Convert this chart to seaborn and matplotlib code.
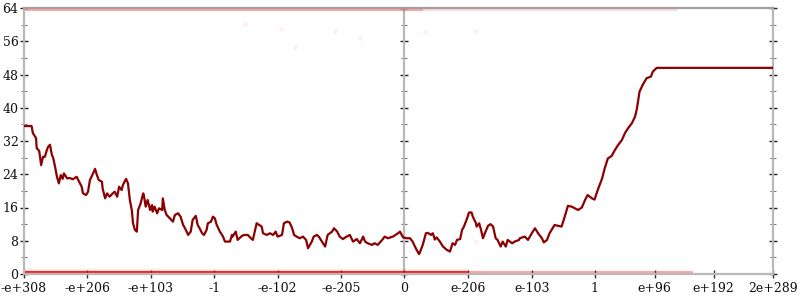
import numpy as np
import pandas as pd
import matplotlib
matplotlib.use("Agg")
import matplotlib.pyplot as plt
import seaborn as sns

# ---- data ----
x_tick_pos = [-6, -5, -4, -3, -2, -1, 0, 1.0, 2.01, 3.0, 3.95, 4.88, 5.82]
x_tick_labels = ["-e+308", "-e+206", "-e+103", "-1", "-e-102", "-e-205", "0",
                 "e-206", "e-103", "1", "e+96", "e+192", "2e+289"]
y_major = [0, 8, 16, 24, 32, 40, 48, 56, 64]
y_minor = [4, 12, 20, 28, 36, 44, 52, 60]

line_x = [-6.00, -5.88, -5.86, -5.81, -5.80, -5.76, -5.73, -5.70, -5.67, -5.64, -5.62, -5.59,
          -5.56, -5.54, -5.51, -5.48, -5.45, -5.42, -5.39, -5.37, -5.32, -5.28, -5.23, -5.17,
          -5.13, -5.09, -5.07, -5.02, -4.99, -4.96, -4.91, -4.88, -4.85, -4.82, -4.77, -4.76,
          -4.72, -4.69, -4.65, -4.60, -4.57, -4.53, -4.50, -4.46, -4.44, -4.39, -4.36, -4.33,
          -4.30, -4.28, -4.25, -4.22, -4.20, -4.16, -4.12, -4.11, -4.08, -4.05, -4.01, -3.98,
          -3.97, -3.94, -3.90, -3.87, -3.82, -3.81, -3.78, -3.75, -3.70, -3.65, -3.62, -3.57,
          -3.53, -3.49, -3.46, -3.41, -3.37, -3.34, -3.29, -3.26, -3.23, -3.19, -3.16, -3.12,
          -3.10, -3.05, -3.02, -2.99, -2.96, -2.91, -2.86, -2.83, -2.75, -2.72, -2.71, -2.66,
          -2.63, -2.56, -2.52, -2.47, -2.42, -2.39, -2.36, -2.33, -2.29, -2.25, -2.23, -2.17,
          -2.12, -2.07, -2.03, -2.00, -1.93, -1.90, -1.85, -1.81, -1.77, -1.74, -1.70, -1.65,
          -1.60, -1.55, -1.52, -1.46, -1.43, -1.38, -1.35, -1.30, -1.25, -1.21, -1.14, -1.11,
          -1.06, -1.02, -0.97, -0.91, -0.86, -0.81, -0.75, -0.70, -0.65, -0.62, -0.58, -0.51,
          -0.47, -0.42, -0.35, -0.31, -0.26, -0.18, -0.10, -0.07, -0.02, 0.04, 0.09, 0.13,
          0.18, 0.23, 0.24, 0.29, 0.34, 0.37, 0.42, 0.45, 0.48, 0.51, 0.56, 0.61,
          0.67, 0.72, 0.76, 0.80, 0.83, 0.88, 0.91, 0.94, 0.99, 1.02, 1.06, 1.08,
          1.13, 1.14, 1.18, 1.21, 1.24, 1.27, 1.32, 1.36, 1.40, 1.44, 1.47, 1.52,
          1.55, 1.60, 1.63, 1.70, 1.74, 1.81, 1.82, 1.90, 1.95, 2.01, 2.06, 2.11,
          2.17, 2.20, 2.25, 2.29, 2.37, 2.42, 2.48, 2.53, 2.58, 2.64, 2.69, 2.74,
          2.80, 2.85, 2.89, 2.96, 3.00, 3.05, 3.12, 3.16, 3.21, 3.27, 3.32, 3.37,
          3.43, 3.48, 3.53, 3.59, 3.64, 3.67, 3.71, 3.76, 3.82, 3.89, 3.92, 3.98,
          5.82]
line_y = [35.6, 35.6, 33.9, 32.7, 30.3, 29.6, 26.2, 28.2, 28.2, 29.8, 30.6, 31.1,
          28.6, 28.0, 25.8, 23.4, 21.8, 23.8, 22.9, 24.2, 23.0, 23.1, 22.8, 23.4,
          22.2, 21.0, 19.4, 19.0, 19.8, 22.6, 24.2, 25.3, 23.8, 22.6, 22.2, 20.6,
          18.2, 19.4, 18.6, 19.4, 19.8, 18.6, 21.0, 20.2, 21.4, 22.9, 21.8, 17.8,
          15.4, 12.2, 10.6, 10.2, 15.4, 17.0, 19.4, 19.0, 16.2, 17.8, 15.4, 16.6,
          15.0, 16.2, 14.6, 15.8, 15.4, 18.2, 15.4, 14.2, 13.4, 12.6, 14.2, 14.6,
          13.8, 11.8, 11.0, 9.4, 10.2, 13.0, 14.0, 11.8, 11.0, 9.8, 9.4, 10.6,
          12.2, 12.6, 13.8, 13.4, 11.8, 10.2, 9.0, 7.8, 7.8, 9.4, 9.0, 10.2,
          8.2, 9.2, 9.4, 9.4, 8.6, 8.2, 10.2, 12.2, 11.8, 11.4, 9.8, 9.4,
          9.8, 9.4, 10.2, 9.0, 9.4, 12.2, 12.6, 12.4, 11.0, 9.4, 9.0, 8.6,
          9.0, 8.2, 6.2, 7.8, 9.0, 9.4, 9.0, 7.8, 6.6, 9.4, 10.2, 11.0,
          10.2, 9.0, 8.4, 9.0, 9.4, 7.8, 8.4, 7.4, 9.0, 7.8, 7.4, 7.0,
          7.4, 7.0, 8.2, 9.0, 8.6, 9.0, 9.8, 10.2, 8.8, 8.6, 8.6, 7.8,
          6.2, 4.8, 5.0, 7.0, 9.8, 9.9, 9.4, 9.8, 8.3, 8.8, 7.8, 6.6,
          5.8, 5.4, 7.4, 7.0, 8.2, 8.4, 10.6, 11.4, 13.4, 14.8, 14.8, 13.8,
          12.2, 11.4, 12.2, 10.6, 8.6, 9.8, 11.6, 12.0, 11.4, 8.6, 8.2, 6.6,
          7.8, 6.6, 8.2, 7.4, 7.8, 8.2, 8.6, 9.0, 8.2, 9.8, 11.0, 9.8,
          8.6, 7.6, 8.2, 9.8, 11.8, 11.6, 11.4, 13.8, 16.4, 16.2, 15.8, 15.4,
          16.0, 17.8, 19.0, 18.2, 17.9, 20.2, 23.0, 25.4, 27.8, 28.4, 29.8, 31.0,
          32.2, 33.9, 35.1, 36.3, 37.9, 39.9, 43.9, 45.5, 47.1, 47.5, 48.7, 49.6,
          49.6]

# sampled points with maximal / zero error (drawn as dense bands)
bottom_band_strong = [-6.0, 1.0]
bottom_band_light = [1.0, 4.55]
top_band_strong = [-6.0, 0.3]
top_band_light = [0.3, 4.3]
# isolated faint sample points
stray_x = [-2.52, -1.95, -1.73, -1.10, -0.70, 0.32, 1.11, 1.13]
stray_y = [60.1, 58.9, 54.7, 58.5, 56.9, 58.3, 58.5, 7.8]

# ---- style ----
sns.set_theme(style="white")
plt.rcParams['font.family'] = ['DejaVu Serif']

fig = plt.figure(figsize=(8, 3), dpi=100)
ax = fig.add_axes([24 / 800, 26 / 300, 749.3 / 800, 266 / 300])

xmin, xmax = -6.0, 5.82
ax.set_xlim(xmin, xmax)
ax.set_ylim(0, 64)

red = "#ff0000"
ax.plot(bottom_band_strong, [0, 0], color=red, lw=4.4, alpha=0.85, solid_capstyle="butt", zorder=2)
ax.plot(bottom_band_light, [0, 0], color=red, lw=4.4, alpha=0.35, solid_capstyle="butt", zorder=2)
ax.plot(bottom_band_strong, [1.0, 1.0], color=red, lw=2.5, alpha=0.07, solid_capstyle="butt", zorder=2)
ax.plot(top_band_strong, [64, 64], color=red, lw=4.4, alpha=0.35, solid_capstyle="butt", zorder=2)
ax.plot(top_band_light, [64, 64], color=red, lw=4.4, alpha=0.15, solid_capstyle="butt", zorder=2)
ax.scatter(stray_x, stray_y, s=14, color=red, alpha=0.06, linewidths=0, zorder=2)

df = pd.DataFrame({"x": line_x, "y": line_y})
sns.lineplot(data=df, x="x", y="y", ax=ax, color="#8b0000", linewidth=1.6,
             estimator=None, sort=False, zorder=3)

spine_col = "#b8b8b8"
for s in ["left", "right", "top", "bottom"]:
    ax.spines[s].set_visible(True)
    ax.spines[s].set_color(spine_col)
    ax.spines[s].set_linewidth(1.6)
ax.spines["top"].set_color("#a0a0a0")

ax.set_xticks(x_tick_pos)
ax.set_xticklabels(x_tick_labels)
ax.set_yticks(y_major)
ax.set_yticks(y_minor, minor=True)
ax.tick_params(axis="x", which="major", direction="inout", length=6, width=1.0,
               color="#333333", labelsize=9, pad=3, labelcolor="#111111", bottom=True)
ax.tick_params(axis="y", which="major", direction="inout", length=6, width=1.0,
               color="#222222", labelsize=9, pad=1, labelcolor="#111111",
               left=True, right=True, labelright=False)
ax.tick_params(axis="y", which="minor", direction="inout", length=4, width=0.8,
               color="#777777", left=True, right=True)
ax.set_xlabel("")
ax.set_ylabel("")
ax.grid(False)

# middle axis at x = 0
mid = (0 - xmin) / (xmax - xmin)
sec = ax.secondary_yaxis(mid)
sec.set_yticks(y_major)
sec.set_yticks(y_minor, minor=True)
sec.tick_params(which="major", direction="inout", length=6, width=1.0, color="#222222",
                labelleft=False, labelright=False)
sec.tick_params(which="minor", direction="inout", length=4, width=0.8, color="#777777")
for s in sec.spines.values():
    s.set_color(spine_col)
    s.set_linewidth(1.6)

fig.savefig("out.png", dpi=100)
